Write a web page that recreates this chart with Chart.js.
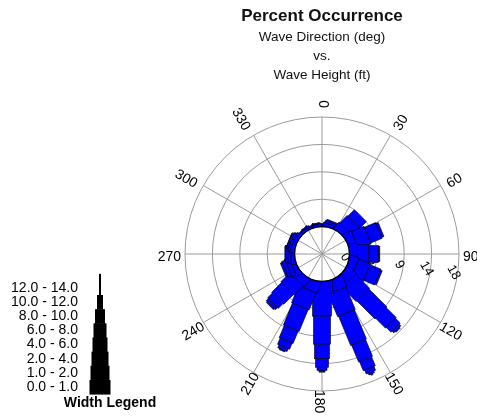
<!DOCTYPE html>
<html>
<head>
<meta charset="utf-8">
<title>Percent Occurrence</title>
<script src="https://cdn.jsdelivr.net/npm/chart.js@4.4.1/dist/chart.umd.min.js"></script>
<style>
  html, body { margin: 0; padding: 0; background: #fff; }
  #wrap { position: relative; width: 477px; height: 416px; }
</style>
</head>
<body>
<div id="wrap"><canvas id="rose"></canvas></div>
<script>
// ---- data ----
// wave directions (deg, clockwise from north), one bar each
const directions = [0, 22.5, 45, 67.5, 90, 112.5, 135, 157.5, 180, 202.5, 225, 247.5, 270, 292.5, 315, 337.5];
// angle labels round the rose
const angleLabels = ['0', '30', '60', '90', '120', '150', '180', '210', '240', '270', '300', '330'];
// wave height bins (ft), inner to outer
const heightBins = ['0.0 - 1.0', '1.0 - 2.0', '2.0 - 4.0', '4.0 - 6.0', '6.0 - 8.0', '8.0 - 10.0', '10.0 - 12.0', '12.0 - 14.0'];

// percent occurrence per height bin, one value per direction
const h0to1   = [0.3, 0.5, 1.2, 1.4, 1.3, 1.4, 1.8, 2.0, 2.0, 1.8, 1.4, 0.8, 0.6, 0.6, 0.4, 0.3];
const h1to2   = [0.2, 0.4, 1.7, 2.2, 1.9, 2.1, 3.2, 4.0, 3.7, 3.0, 2.1, 0.7, 0.5, 0.4, 0.2, 0.2];
const h2to4   = [0.0, 0.2, 1.5, 2.0, 1.6, 1.9, 4.2, 5.2, 4.6, 3.9, 2.3, 0.6, 0.4, 0.3, 0.0, 0.0];
const h4to6   = [0.0, 0.0, 0.0, 0.4, 0.2, 0.3, 2.3, 3.0, 2.4, 2.2, 1.1, 0.3, 0.1, 0.1, 0.0, 0.0];
const h6to8   = [0.0, 0.0, 0.0, 0.0, 0.0, 0.0, 1.1, 1.6, 1.4, 1.1, 0.5, 0.0, 0.0, 0.0, 0.0, 0.0];
const h8to10  = [0.0, 0.0, 0.0, 0.0, 0.0, 0.0, 0.4, 0.7, 0.5, 0.5, 0.2, 0.0, 0.0, 0.0, 0.0, 0.0];
const h10to12 = [0.0, 0.0, 0.0, 0.0, 0.0, 0.0, 0.2, 0.3, 0.3, 0.2, 0.0, 0.0, 0.0, 0.0, 0.0, 0.0];
const h12to14 = [0.0, 0.0, 0.0, 0.0, 0.0, 0.0, 0.0, 0.2, 0.0, 0.0, 0.0, 0.0, 0.0, 0.0, 0.0, 0.0];
const heightSeries = [h0to1, h1to2, h2to4, h4to6, h6to8, h8to10, h10to12, h12to14];

// radial rings: 0 .. 18 %, one empty ring step used as the centre hole
const ringStep = 4.5;
const ringMax = 18;

// ---- styles ----
const FONT = '"Liberation Sans", Arial, Helvetica, sans-serif';
const barWidths = [21, 19, 17, 15, 13, 10, 6, 2];   // px, one per height bin
const barFill = '#0000ff';
const gridGray = '#9a9a9a';

const deg = Math.PI / 180;

// rose bars, rotated labels and the width legend
const roseLayer = {
  id: 'roseLayer',
  afterDatasetsDraw(chart) {
    const r = chart.scales.r;
    const ctx = chart.ctx;
    const cx = r.xCenter, cy = r.yCenter;
    const hole = r.getDistanceFromCenterForValue(0);
    const north = r.getIndexAngle(0) - Math.PI / 2;

    ctx.save();

    // ring values along ~98 deg
    ctx.font = '13px ' + FONT;
    ctx.fillStyle = '#000';
    ctx.textAlign = 'center';
    ctx.textBaseline = 'middle';
    r.ticks.forEach(t => {
      if (t.value < 0) return;
      const d = r.getDistanceFromCenterForValue(t.value) - 4;
      const a = north + 98 * deg;
      ctx.save();
      ctx.translate(cx + Math.cos(a) * d, cy + Math.sin(a) * d);
      ctx.rotate(60 * deg);
      ctx.fillText(String(Math.round(t.value)), 0, 0);
      ctx.restore();
    });

    // stacked bars, clipped to outside of the hole
    ctx.save();
    ctx.beginPath();
    ctx.rect(0, 0, chart.width, chart.height);
    ctx.arc(cx, cy, hole, 0, Math.PI * 2);
    ctx.clip('evenodd');
    ctx.strokeStyle = '#000';
    ctx.lineWidth = 0.6;
    ctx.fillStyle = barFill;
    directions.forEach((dir, k) => {
      let cum = 0;
      ctx.save();
      ctx.translate(cx, cy);
      ctx.rotate(north + dir * deg);
      heightSeries.forEach((series, j) => {
        const v = series[k];
        if (!v) return;
        let r0 = r.getDistanceFromCenterForValue(cum);
        const r1 = r.getDistanceFromCenterForValue(cum + v);
        if (cum === 0) r0 -= 8;
        cum += v;
        const w = barWidths[j];
        ctx.fillRect(r0, -w / 2, r1 - r0, w);
        ctx.strokeRect(r0, -w / 2, r1 - r0, w);
      });
      ctx.restore();
    });
    ctx.restore();

    // hole outline
    ctx.beginPath();
    ctx.arc(cx, cy, hole, 0, Math.PI * 2);
    ctx.strokeStyle = '#000';
    ctx.lineWidth = 1.3;
    ctx.stroke();

    // direction labels, written along the radius
    ctx.font = '14px ' + FONT;
    ctx.fillStyle = '#000';
    angleLabels.forEach((lab, i) => {
      const theta = Number(lab);
      const w = ctx.measureText(lab).width;
      const d = r.drawingArea + 4 + w / 2 + 5 * Math.cos(theta * deg);
      const p = r.getPointPosition(i, d);
      const rot = (theta <= 180 ? theta - 90 : theta + 90) * deg;
      ctx.save();
      ctx.translate(p.x, p.y);
      ctx.rotate(rot);
      ctx.fillText(lab, 0, 3);
      ctx.restore();
    });

    // width legend
    const lx = 78, sx = 100, rowH = 14.15, bottomY = 387;
    ctx.textAlign = 'right';
    ctx.fillStyle = '#000';
    heightBins.forEach((lab, j) => {
      const y = bottomY - j * rowH;
      ctx.font = '14px ' + FONT;
      ctx.fillText(lab, lx, y);
      const w = barWidths[j];
      const top = j === heightBins.length - 1 ? y - rowH : y - rowH / 2;
      ctx.fillRect(sx - w / 2, top, w, y + rowH / 2 + 0.5 - top);
    });
    ctx.textAlign = 'center';
    ctx.font = 'bold 14px ' + FONT;
    ctx.fillText('Width Legend', 110, 403);

    ctx.restore();
  }
};

new Chart(document.getElementById('rose'), {
  type: 'radar',
  data: { labels: angleLabels, datasets: [] },
  options: {
    responsive: true,
    maintainAspectRatio: false,
    animation: false,
    layout: { padding: { left: 185, right: 18, top: 0, bottom: 24 } },
    scales: {
      r: {
        min: -ringStep,
        max: ringMax,
        ticks: { stepSize: ringStep, display: false },
        grid: { circular: true, color: gridGray, lineWidth: 1 },
        angleLines: { color: gridGray, lineWidth: 1 },
        pointLabels: { display: false }
      }
    },
    plugins: {
      legend: { display: false },
      tooltip: { enabled: false },
      title: {
        display: true,
        text: 'Percent Occurrence',
        color: '#111',
        font: { family: FONT, size: 17, weight: 'bold', lineHeight: 1.2 },
        padding: { top: 6, bottom: 0 }
      },
      subtitle: {
        display: true,
        text: ['Wave Direction (deg)', 'vs.', 'Wave Height (ft)'],
        color: '#111',
        font: { family: FONT, size: 13.5, lineHeight: '19px' },
        padding: { top: 1, bottom: 33.5 }
      }
    }
  },
  plugins: [roseLayer]
});
</script>
</body>
</html>
